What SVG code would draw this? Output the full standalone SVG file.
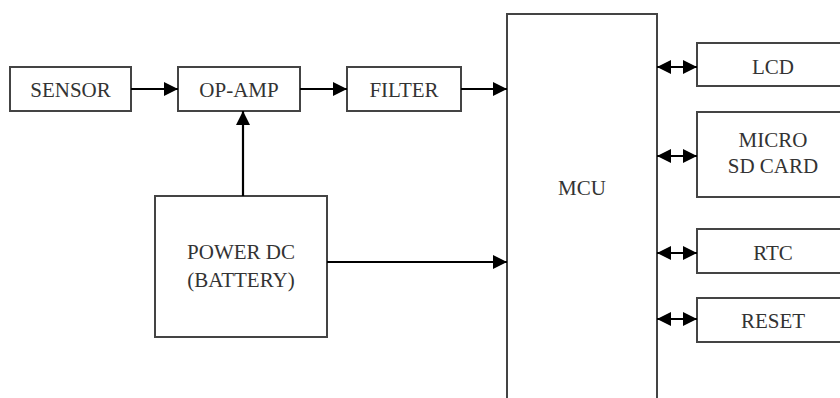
<svg xmlns="http://www.w3.org/2000/svg" width="840" height="398" viewBox="0 0 840 398">
<style>
.box{fill:#fff;stroke:#444;stroke-width:2}
.lbl{font-family:'Liberation Serif','DejaVu Serif',serif;font-size:21px;fill:#333;text-anchor:middle}
.ln{fill:none;stroke:#000;stroke-width:2.2}
</style>
<defs>
<marker id="ah" viewBox="0 0 14 14" refX="14" refY="7" markerWidth="14" markerHeight="14" markerUnits="userSpaceOnUse" orient="auto-start-reverse">
<path d="M0,0 L14,7 L0,14 Z" fill="#000"/>
</marker>
</defs>
<rect width="840" height="398" fill="#fff"/>
<g id="sensor"><rect class="box" x="10" y="67" width="121" height="44"/><text class="lbl" x="70.5" y="97">SENSOR</text></g>
<g id="opamp"><rect class="box" x="178" y="67" width="122" height="44"/><text class="lbl" x="239" y="97">OP-AMP</text></g>
<g id="filter"><rect class="box" x="347" y="67" width="114" height="44"/><text class="lbl" x="404" y="97">FILTER</text></g>
<g id="mcu"><rect class="box" x="507" y="14" width="150" height="400"/><text class="lbl" x="582" y="195">MCU</text></g>
<g id="power"><rect class="box" x="155" y="196" width="172" height="141"/><text class="lbl" x="241" y="259">POWER DC</text><text class="lbl" x="241" y="287">(BATTERY)</text></g>
<g id="lcd"><rect class="box" x="697" y="43" width="150" height="43"/><text class="lbl" x="773" y="74">LCD</text></g>
<g id="sdcard"><rect class="box" x="697" y="112" width="150" height="85"/><text class="lbl" x="773" y="147">MICRO</text><text class="lbl" x="773" y="173">SD CARD</text></g>
<g id="rtc"><rect class="box" x="697" y="229" width="150" height="44"/><text class="lbl" x="773" y="260">RTC</text></g>
<g id="reset"><rect class="box" x="697" y="298" width="150" height="44"/><text class="lbl" x="773" y="328">RESET</text></g>
<g id="connectors">
<line class="ln" x1="131" y1="89" x2="178" y2="89" marker-end="url(#ah)"/>
<line class="ln" x1="300" y1="89" x2="347" y2="89" marker-end="url(#ah)"/>
<line class="ln" x1="461" y1="89" x2="507" y2="89" marker-end="url(#ah)"/>
<line class="ln" x1="243" y1="196" x2="243" y2="111" marker-end="url(#ah)"/>
<line class="ln" x1="327" y1="262" x2="507" y2="262" marker-end="url(#ah)"/>
<line class="ln" x1="657" y1="67" x2="697" y2="67" marker-start="url(#ah)" marker-end="url(#ah)"/>
<line class="ln" x1="657" y1="156" x2="697" y2="156" marker-start="url(#ah)" marker-end="url(#ah)"/>
<line class="ln" x1="657" y1="253" x2="697" y2="253" marker-start="url(#ah)" marker-end="url(#ah)"/>
<line class="ln" x1="657" y1="319" x2="697" y2="319" marker-start="url(#ah)" marker-end="url(#ah)"/>
</g>
</svg>
